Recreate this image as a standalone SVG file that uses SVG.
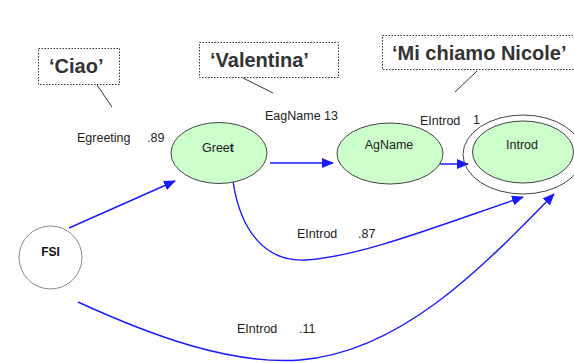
<svg xmlns="http://www.w3.org/2000/svg" width="574" height="363" viewBox="0 0 574 363">
<style>
  .node { fill: #ccffcc; stroke: #444; stroke-width: 1; }
  .ring { fill: none; stroke: #444; stroke-width: 1; }
  .lbl { font-family: "Liberation Sans", Arial, sans-serif; font-size: 12.5px; fill: #222; }
  .nl { font-family: "Liberation Sans", Arial, sans-serif; font-size: 12.5px; fill: #222; text-anchor: middle; }
  .call { font-family: "Liberation Sans", Arial, sans-serif; font-size: 20px; font-weight: bold; fill: #333; }
  .box { fill: #fff; stroke: #334; stroke-width: 1; stroke-dasharray: 1.5 1.5; }
  .lead { stroke: #333; stroke-width: 1; fill: none; }
  .edge { stroke: #1a1aff; stroke-width: 1.4; fill: none; marker-end: url(#ah); }
</style>
<defs>
  <marker id="ah" markerWidth="12" markerHeight="10" refX="11" refY="5" orient="auto" markerUnits="userSpaceOnUse">
    <path d="M0,0 L12,5 L0,10 Z" fill="#1a1aff"/>
  </marker>
</defs>
<rect width="574" height="363" fill="#fff"/>

<g id="callout-ciao">
  <rect class="box" x="38.5" y="48.5" width="81" height="36"/>
  <text class="call" x="49" y="73">‘Ciao’</text>
  <line class="lead" x1="97" y1="85" x2="112" y2="107"/>
</g>
<g id="callout-valentina">
  <rect class="box" x="199.5" y="42.5" width="139" height="35"/>
  <text class="call" x="210" y="67">‘Valentina’</text>
  <line class="lead" x1="243" y1="78" x2="273" y2="93"/>
</g>
<g id="callout-nicole">
  <rect class="box" x="382.5" y="35.5" width="200" height="34"/>
  <text class="call" x="392" y="60">‘Mi chiamo Nicole’</text>
  <line class="lead" x1="477" y1="71" x2="455" y2="92"/>
</g>

<g id="connectors">
  <path class="edge" d="M69,228 L175,181"/>
  <path class="edge" d="M270,163 L333,163"/>
  <path class="edge" d="M430,164 L468,164"/>
  <path class="edge" d="M233,181 C240,230 265,262 305,260 C360,257 440,225 523,197"/>
  <path class="edge" d="M78,302 C150,335 230,365 300,360 C400,352 480,270 554,194"/>
  <text class="lbl" x="77" y="142">Egreeting</text>
  <text class="lbl" x="147" y="142">.89</text>
  <text class="lbl" x="265" y="120">EagName 13</text>
  <text class="lbl" x="297" y="238">EIntrod</text>
  <text class="lbl" x="358" y="238">.87</text>
  <text class="lbl" x="237" y="333">EIntrod</text>
  <text class="lbl" x="299" y="333">.11</text>
</g>

<g id="FSI">
  <circle cx="50.5" cy="257.5" r="31.5" fill="#fff" stroke="#888" stroke-width="1"/>
  <text x="50.5" y="256" text-anchor="middle" font-family="Liberation Sans, Arial, sans-serif" font-size="12" font-weight="bold" fill="#111">FSI</text>
</g>
<g id="Greet">
  <ellipse class="node" cx="219" cy="153" rx="48" ry="30.5"/>
  <text class="nl" x="218" y="152">Gree<tspan font-weight="bold">t</tspan></text>
</g>
<g id="AgName">
  <ellipse class="node" cx="390" cy="153.5" rx="53" ry="30.5"/>
  <text class="nl" x="389" y="149">AgName</text>
</g>
<g id="Introd">
  <ellipse class="ring" cx="523" cy="154.5" rx="60" ry="39.5"/>
  <ellipse class="node" cx="523" cy="152" rx="50.5" ry="31"/>
  <text class="nl" x="522" y="149">Introd</text>
  <rect x="471" y="111" width="14" height="12" fill="#fff"/>
  <text class="lbl" x="420" y="125">EIntrod</text>
  <text class="lbl" x="473" y="124">1</text>
</g>
</svg>
